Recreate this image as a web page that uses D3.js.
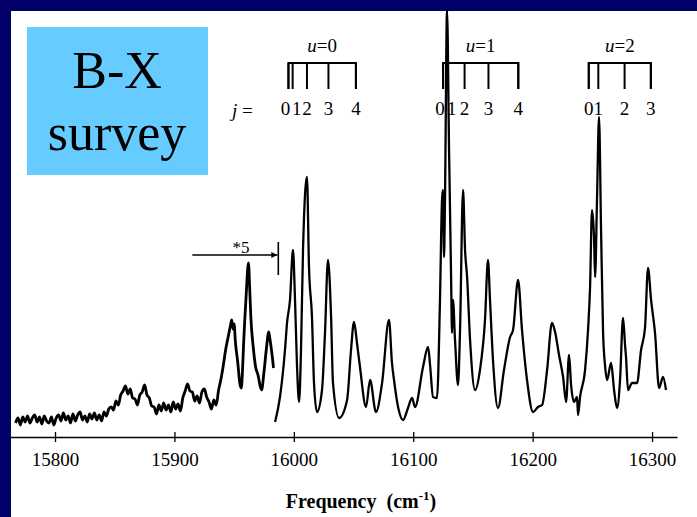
<!DOCTYPE html>
<meta charset="utf-8">
<script src="https://d3js.org/d3.v7.min.js"></script>
<style>
  body { margin: 0; background: #000068; }
  svg { display: block; }
  text { font-family: "Liberation Serif", "Times New Roman", serif; fill: #000; }
</style>
<body>
<div id="my_dataviz"></div>
<script>
// x axis ticks
var tickValues = [15800, 15900, 16000, 16100, 16200, 16300];

// left part of the survey (shown *5)
var lowFreq = [15767, 15769, 15771, 15773, 15775, 15777, 15779, 15781, 15783, 15785,
  15787, 15789, 15791, 15793, 15795, 15797, 15799, 15801, 15803, 15805,
  15807, 15809, 15811, 15813, 15815, 15817, 15819, 15821, 15823, 15825,
  15827, 15829, 15831, 15833, 15835, 15837, 15839, 15841, 15843, 15845,
  15847, 15849, 15851, 15853, 15855, 15857, 15859, 15861, 15863, 15865,
  15867, 15869, 15871, 15873, 15875, 15877, 15879, 15881, 15883, 15885,
  15887, 15889, 15891, 15893, 15895, 15897, 15899, 15901, 15903, 15905,
  15907, 15909, 15911, 15913, 15915, 15917, 15919, 15921, 15923, 15925,
  15927, 15929, 15931, 15933, 15935, 15937, 15939,
  15941, 15943, 15945, 15947, 15948, 15949, 15950, 15951, 15953, 15955,
  15956, 15957, 15958, 15960, 15962, 15963, 15964, 15966, 15968, 15970,
  15972, 15973, 15975, 15977, 15979, 15980, 15982, 15983];
var lowIntensity = [14, 19, 12, 20, 15, 21, 14, 19, 22, 15,
  20, 13, 21, 16, 14, 20, 12, 19, 22, 16,
  24, 17, 21, 14, 23, 16, 22, 25, 17, 21,
  15, 23, 18, 24, 17, 22, 16, 25, 21, 28,
  30, 27, 36, 32, 42, 46, 51, 43, 48, 39,
  38, 32, 42, 45, 52, 42, 39, 31, 30, 23,
  32, 26, 34, 27, 32, 25, 35, 28, 33, 26,
  39, 46, 53, 46, 45, 36, 41, 34, 45, 48,
  40, 35, 28, 37, 32, 47, 58,
  72, 88, 100, 112, 117, 108, 113, 96, 75, 52,
  49, 66, 95, 140, 174, 150, 120, 90, 70, 62,
  50, 47, 65, 88, 105, 98, 80, 69];

// main part of the survey
var highFreq = [15984.3, 15988.4, 15992.6, 15994.3, 15996.8, 15999.3, 16001, 16002.7, 16004.4, 16006,
  16007.7, 16011, 16012.7, 16015.2, 16016.9, 16019.4, 16023.6, 16026.1, 16028.6, 16031.2,
  16032.8, 16037.9, 16044.6, 16047.9, 16050.4, 16052.9, 16055.4, 16060.5, 16063.8, 16068.8,
  16073.9, 16079.7, 16082.2, 16083.9, 16087.3, 16091.5, 16095.6, 16099, 16101.5, 16108.2,
  16112.4, 16114.1, 16116.6, 16119.9, 16122.4, 16124.1, 16124.9, 16125.8, 16126.6, 16128.3,
  16130, 16131.7, 16132.5, 16133.3, 16135, 16137.5, 16139.2, 16141.7, 16143.4, 16145.1,
  16147.6, 16151.8, 16155.9, 16160.1, 16162.6, 16164.3, 16166.8, 16171, 16176, 16181.1,
  16183.6, 16187.8, 16191.1, 16195.3, 16200.3, 16204.5, 16207.9, 16212.1, 16216.2, 16218.8,
  16222.1, 16225.5, 16228, 16230.5, 16232.2, 16234.7, 16237.2, 16238, 16239.7, 16243.9,
  16246.4, 16248.1, 16249.7, 16251.4, 16252.3, 16253.9, 16255.6, 16257.3, 16259, 16260.6,
  16262.3, 16265.7, 16268.2, 16270.7, 16273.2, 16275.7, 16277.4, 16278.2, 16279.9, 16283.2,
  16287.4, 16290.8, 16294.1, 16296.6, 16299.2, 16302.5, 16305.9, 16309.2, 16311.7];
var highIntensity = [15, 40, 87, 114, 137, 187, 137, 70, 35, 87,
  187, 260, 170, 120, 54, 25, 47, 104, 177, 120,
  54, 19, 37, 87, 115, 94, 70, 30, 57, 25,
  54, 117, 74, 57, 30, 17, 29, 39, 30, 70,
  90, 72, 40, 39, 137, 237, 247, 180, 237, 427,
  287, 160, 104, 137, 97, 52, 107, 247, 187, 160,
  97, 47, 67, 117, 177, 137, 77, 29, 67, 100,
  107, 157, 107, 57, 25, 30, 32, 67, 114, 105,
  82, 60, 35, 82, 52, 35, 40, 22, 40, 67,
  107, 150, 227, 200, 160, 237, 320, 207, 104, 72,
  57, 74, 47, 29, 57, 119, 92, 80, 47, 54,
  54, 87, 109, 169, 137, 104, 49, 60, 47];

// rotational assignments (line positions in cm-1)
var uLabels = ["u=0", "u=1", "u=2"];
var uLines = [
  [15995.5, 15999, 16011, 16029, 16052],
  [16125, 16129, 16143, 16163, 16188],
  [16247, 16255, 16277, 16299]
];

// "*5" scale marker: arrow from / to frequency, intensity level
var scaleMarkFreq = [15915, 15987];
var scaleMarkLevel = 182;

var width = 697, height = 517;
var svg = d3.select("#my_dataviz")
  .append("svg")
  .attr("width", width)
  .attr("height", height);

// white slide area
svg.append("rect")
  .attr("x", 11).attr("y", 11)
  .attr("width", width - 11).attr("height", height - 11)
  .attr("fill", "#fff");

var x = d3.scaleLinear().domain([15762.3, 16320.9]).range([10, 677]);
var y = d3.scaleLinear().domain([0, 427]).range([437, 10]);

var line = d3.line()
  .x(function (d) { return x(d[0]); })
  .y(function (d) { return y(d[1]); })
  .curve(d3.curveMonotoneX);

var lowData = d3.zip(lowFreq, lowIntensity);
var highData = d3.zip(highFreq, highIntensity);

// the noisy low part looks heavier in the scan
[[lowData, 2.8], [highData, 2.3]].forEach(function (s) {
  svg.append("path")
    .datum(s[0])
    .attr("fill", "none")
    .attr("stroke", "#000")
    .attr("stroke-width", s[1])
    .attr("stroke-linejoin", "round")
    .attr("d", line);
});

// axis
var axis = svg.append("g")
  .attr("transform", "translate(0,437)")
  .call(d3.axisBottom(x)
    .tickValues(tickValues)
    .tickFormat(d3.format("d"))
    .tickSizeInner(5)
    .tickSizeOuter(0)
    .tickPadding(11));
axis.select(".domain").attr("stroke", "#000").attr("stroke-width", 1.5);
axis.selectAll(".tick line").attr("y1", -5).attr("y2", 5).attr("stroke", "#000").attr("stroke-width", 1.3);
axis.selectAll(".tick text")
  .attr("font-family", "Liberation Serif")
  .attr("font-size", 19)
  .attr("fill", "#000");

// axis title
var title = svg.append("text")
  .attr("x", 361)
  .attr("y", 508)
  .attr("text-anchor", "middle")
  .attr("font-size", 20)
  .attr("font-weight", "bold")
  .attr("xml:space", "preserve");
title.append("tspan").text("Frequency  (cm");
title.append("tspan").attr("font-size", 13).attr("dy", -8).text("-1");
title.append("tspan").attr("dy", 8).text(")");

// assignment brackets
var barTop = 63, barBottom = 89;
uLines.forEach(function (lines, i) {
  var g = svg.append("g");
  var xs = lines.map(x);
  g.append("path")
    .attr("d", "M" + xs[0] + "," + barBottom + "V" + barTop + "H" + xs[xs.length - 1] + "V" + barBottom)
    .attr("fill", "none").attr("stroke", "#000").attr("stroke-width", 2);
  xs.forEach(function (px) {
    g.append("line")
      .attr("x1", px).attr("x2", px)
      .attr("y1", barTop).attr("y2", barBottom)
      .attr("stroke", "#000").attr("stroke-width", 2);
  });
  var lx = xs.slice();
  if (lx[1] - lx[0] < 8) { lx[0] -= 3; lx[1] += 4; }
  lx.forEach(function (px, j) {
    g.append("text")
      .attr("x", px).attr("y", 115)
      .attr("text-anchor", "middle")
      .attr("font-size", 19)
      .text(j);
  });
  var ut = g.append("text")
    .attr("x", (xs[0] + xs[xs.length - 1]) / 2)
    .attr("y", 52)
    .attr("text-anchor", "middle")
    .attr("font-size", 19);
  ut.append("tspan").attr("font-style", "italic").text(uLabels[i].slice(0, 1));
  ut.append("tspan").text(uLabels[i].slice(1));
});

var jt = svg.append("text").attr("x", 232).attr("y", 117).attr("font-size", 19);
jt.append("tspan").attr("font-style", "italic").text("j");
jt.append("tspan").text(" =");

// "*5" marker
svg.append("defs").append("marker")
  .attr("id", "arrow")
  .attr("viewBox", "0 0 10 10")
  .attr("refX", 10).attr("refY", 5)
  .attr("markerWidth", 9).attr("markerHeight", 6)
  .attr("markerUnits", "userSpaceOnUse")
  .attr("orient", "auto")
  .append("path").attr("d", "M0,0L10,5L0,10Z").attr("fill", "#000");
svg.append("line")
  .attr("x1", x(scaleMarkFreq[0])).attr("x2", x(scaleMarkFreq[1]) - 1)
  .attr("y1", y(scaleMarkLevel)).attr("y2", y(scaleMarkLevel))
  .attr("stroke", "#000").attr("stroke-width", 1.6)
  .attr("marker-end", "url(#arrow)");
svg.append("line")
  .attr("x1", x(scaleMarkFreq[1])).attr("x2", x(scaleMarkFreq[1]))
  .attr("y1", y(scaleMarkLevel) - 13).attr("y2", y(scaleMarkLevel) + 20)
  .attr("stroke", "#000").attr("stroke-width", 1.6);
svg.append("text")
  .attr("x", 241).attr("y", y(scaleMarkLevel) - 2)
  .attr("text-anchor", "middle")
  .attr("font-size", 17)
  .text("*5");

// title box
svg.append("rect")
  .attr("x", 27).attr("y", 27)
  .attr("width", 181).attr("height", 148)
  .attr("fill", "#66ccff");
svg.append("text")
  .attr("x", 117).attr("y", 88)
  .attr("text-anchor", "middle")
  .attr("font-size", 52)
  .text("B-X");
svg.append("text")
  .attr("x", 117).attr("y", 150)
  .attr("text-anchor", "middle")
  .attr("font-size", 52)
  .text("survey");
</script>
</body>
